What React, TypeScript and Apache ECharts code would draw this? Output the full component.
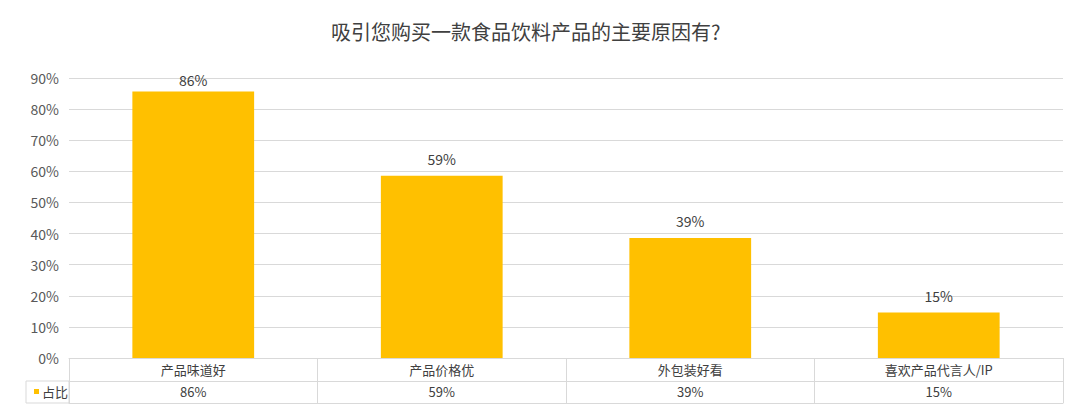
import React, { useEffect, useRef } from "react";
import * as echarts from "echarts";

const titleText = "吸引您购买一款食品饮料产品的主要原因有?";
const seriesName = "占比";
const categories = ["产品味道好", "产品价格优", "外包装好看", "喜欢产品代言人/IP"];
const values = [0.857, 0.586, 0.386, 0.146];
const yMax = 0.9;
const yInterval = 0.1;

const FONT = "'Noto Sans CJK SC', 'Noto Sans', sans-serif";
const pct = (v: number) => Math.round(v * 100) + "%";
const LINE = "#d9d9d9";

export default function App() {
  const ref = useRef<HTMLDivElement>(null);
  useEffect(() => {
    if (!ref.current) return;
    const chart = echarts.init(ref.current, undefined, { renderer: "svg" });
    const baseX = {
      type: "category" as const,
      data: categories,
      position: "bottom" as const,
      boundaryGap: true,
      gridIndex: 0,
    };
    chart.setOption({
      animation: false,
      backgroundColor: "#ffffff",
      textStyle: { fontFamily: FONT },
      title: {
        text: titleText,
        left: 326,
        top: 16,
        textStyle: { fontSize: 20, fontWeight: "normal", color: "#404040", fontFamily: FONT },
      },
      legend: {
        data: [seriesName],
        left: 29,
        top: 380,
        icon: "rect",
        itemWidth: 5,
        itemHeight: 5,
        itemGap: 4,
        textStyle: { fontSize: 13, color: "#404040", fontFamily: FONT, padding: [0, 0, 0, -2] },
      },
      grid: { left: 69, right: 17, top: 78, bottom: 55, containLabel: false },
      xAxis: [
        {
          ...baseX,
          axisLine: { show: true, lineStyle: { color: LINE, width: 1 } },
          axisTick: { show: true, interval: 0, length: 45, lineStyle: { color: LINE, width: 1 } },
          axisLabel: {
            interval: 0,
            margin: 11,
            verticalAlign: "middle",
            fontSize: 13,
            color: "#404040",
            fontFamily: FONT,
          },
        },
        {
          ...baseX,
          offset: 23,
          axisLine: { show: true, lineStyle: { color: LINE, width: 1 } },
          axisTick: { show: false },
          axisLabel: {
            interval: 0,
            margin: 10,
            verticalAlign: "middle",
            fontSize: 13,
            color: "#404040",
            fontFamily: FONT,
            formatter: (_: string, i: number) => pct(values[i]),
          },
        },
        {
          ...baseX,
          offset: 45,
          axisLine: { show: true, lineStyle: { color: LINE, width: 1 } },
          axisTick: { show: false },
          axisLabel: { show: false },
        },
      ],
      yAxis: {
        type: "value",
        min: 0,
        max: yMax,
        interval: yInterval,
        axisLine: { show: false },
        axisTick: { show: false },
        splitLine: { lineStyle: { color: LINE, width: 1 } },
        axisLabel: {
          margin: 10,
          fontSize: 14,
          color: "#595959",
          fontFamily: FONT,
          formatter: (v: number) => Math.round(v * 100) + "%",
        },
      },
      graphic: [
        {
          type: "rect",
          shape: { x: 26, y: 381, width: 43, height: 22 },
          style: { fill: "none", stroke: LINE, lineWidth: 1 },
          silent: true,
        },
      ],
      series: [
        {
          name: seriesName,
          type: "bar",
          data: values.map((v, i) => (i === 0 ? { value: v, label: { distance: 4 } } : v)),
          barWidth: "49%",
          itemStyle: { color: "#FFC000" },
          label: {
            show: true,
            position: "top",
            distance: 10,
            fontSize: 14,
            color: "#404040",
            fontFamily: FONT,
            formatter: (p: any) => pct(p.value),
          },
        },
      ],
    });
    return () => chart.dispose();
  }, []);
  return (
    <div
      ref={ref}
      style={{ position: "absolute", left: 0, top: 0, width: 1080, height: 413 }}
    />
  );
}
